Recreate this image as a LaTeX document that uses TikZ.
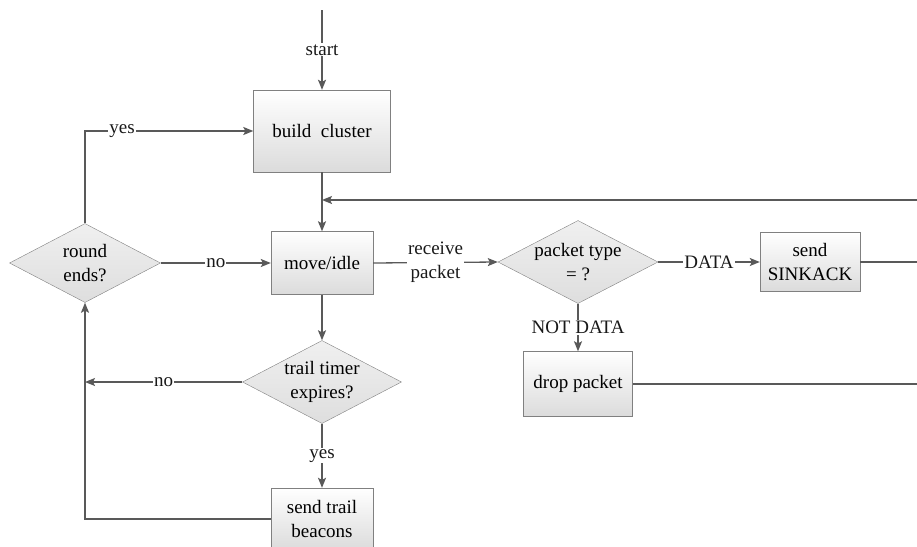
\documentclass[tikz,border=0pt]{standalone}
\usepackage{fontspec}
\setmainfont{Liberation Serif}
\usetikzlibrary{shapes.geometric, arrows.meta}

\begin{document}
\begin{tikzpicture}[x=1pt, y=-1pt, >={Stealth[length=10pt, width=8pt, inset=2pt]},
    box/.style={rectangle, draw=black!50, top color=white, bottom color=black!14, inner sep=0pt, align=center},
    decision/.style={diamond, aspect=1.93, draw=black!50, top color=black!6, bottom color=black!13, inner sep=-5pt, align=center},
    line/.style={draw=black!65, line width=1.3pt},
    lbl/.style={fill=white, inner sep=1pt, text=black!90}]
        \clip (0,0) rectangle (917,546);
        \fontsize{19}{24}\selectfont

        % Boxes
        \node[box, minimum width=137, minimum height=82] (build) at (322,131) {build\ \ cluster};
        \node[box, minimum width=102, minimum height=63] (move) at (322,263) {move/idle};
        \node[box, minimum width=100, minimum height=59] (sink) at (810,262) {send\\SINKACK};
        \node[box, minimum width=109, minimum height=65] (drop) at (578,384) {drop packet};
        \node[box, minimum width=102, minimum height=62] (beacons) at (322,519) {send trail\\beacons};

        % Decisions
        \node[decision, minimum width=151, minimum height=79] (round) at (85,263) {round\\ends?};
        \node[decision, minimum width=160, minimum height=83] (ptype) at (578,262) {packet type\\= ?};
        \node[decision, minimum width=159, minimum height=83] (timer) at (322,382) {trail timer\\expires?};

        % Loose ends
        \coordinate (top) at (322,10);
        \coordinate (fb) at (917,200);
        \coordinate (sinkout) at (917,262);
        \coordinate (dropout) at (917,384);

        % Connections
        \draw[line, ->] (top) -- node[lbl] {start} (build);
        \draw[line, ->] (build) -- (move);
        \draw[line, ->] (fb) -- (build.south |- fb);
        \draw[line, ->] (round.north) |- node[lbl, pos=0.61] {yes} (build.west);
        \draw[line, ->] (round.east) -- node[lbl] {no} (move.west);
        \draw[line, ->] (move.east) -- node[lbl, align=center] {receive\\packet} (ptype.west);
        \draw[line, ->] (ptype.east) -- node[lbl] {DATA} (sink.west);
        \draw[line] (sink.east) -- (sinkout);
        \draw[line, ->] (ptype.south) -- node[lbl] {NOT DATA} (drop.north);
        \draw[line] (drop.east) -- (dropout);
        \draw[line, ->] (move) -- (timer);
        \draw[line, ->] (timer.west) -- node[lbl] {no} (round.south |- timer.west);
        \draw[line, ->] (timer.south) -- node[lbl] {yes} (beacons.north);
        \draw[line, ->] (beacons.west) -| (round.south);
    \end{tikzpicture}
\end{document}
